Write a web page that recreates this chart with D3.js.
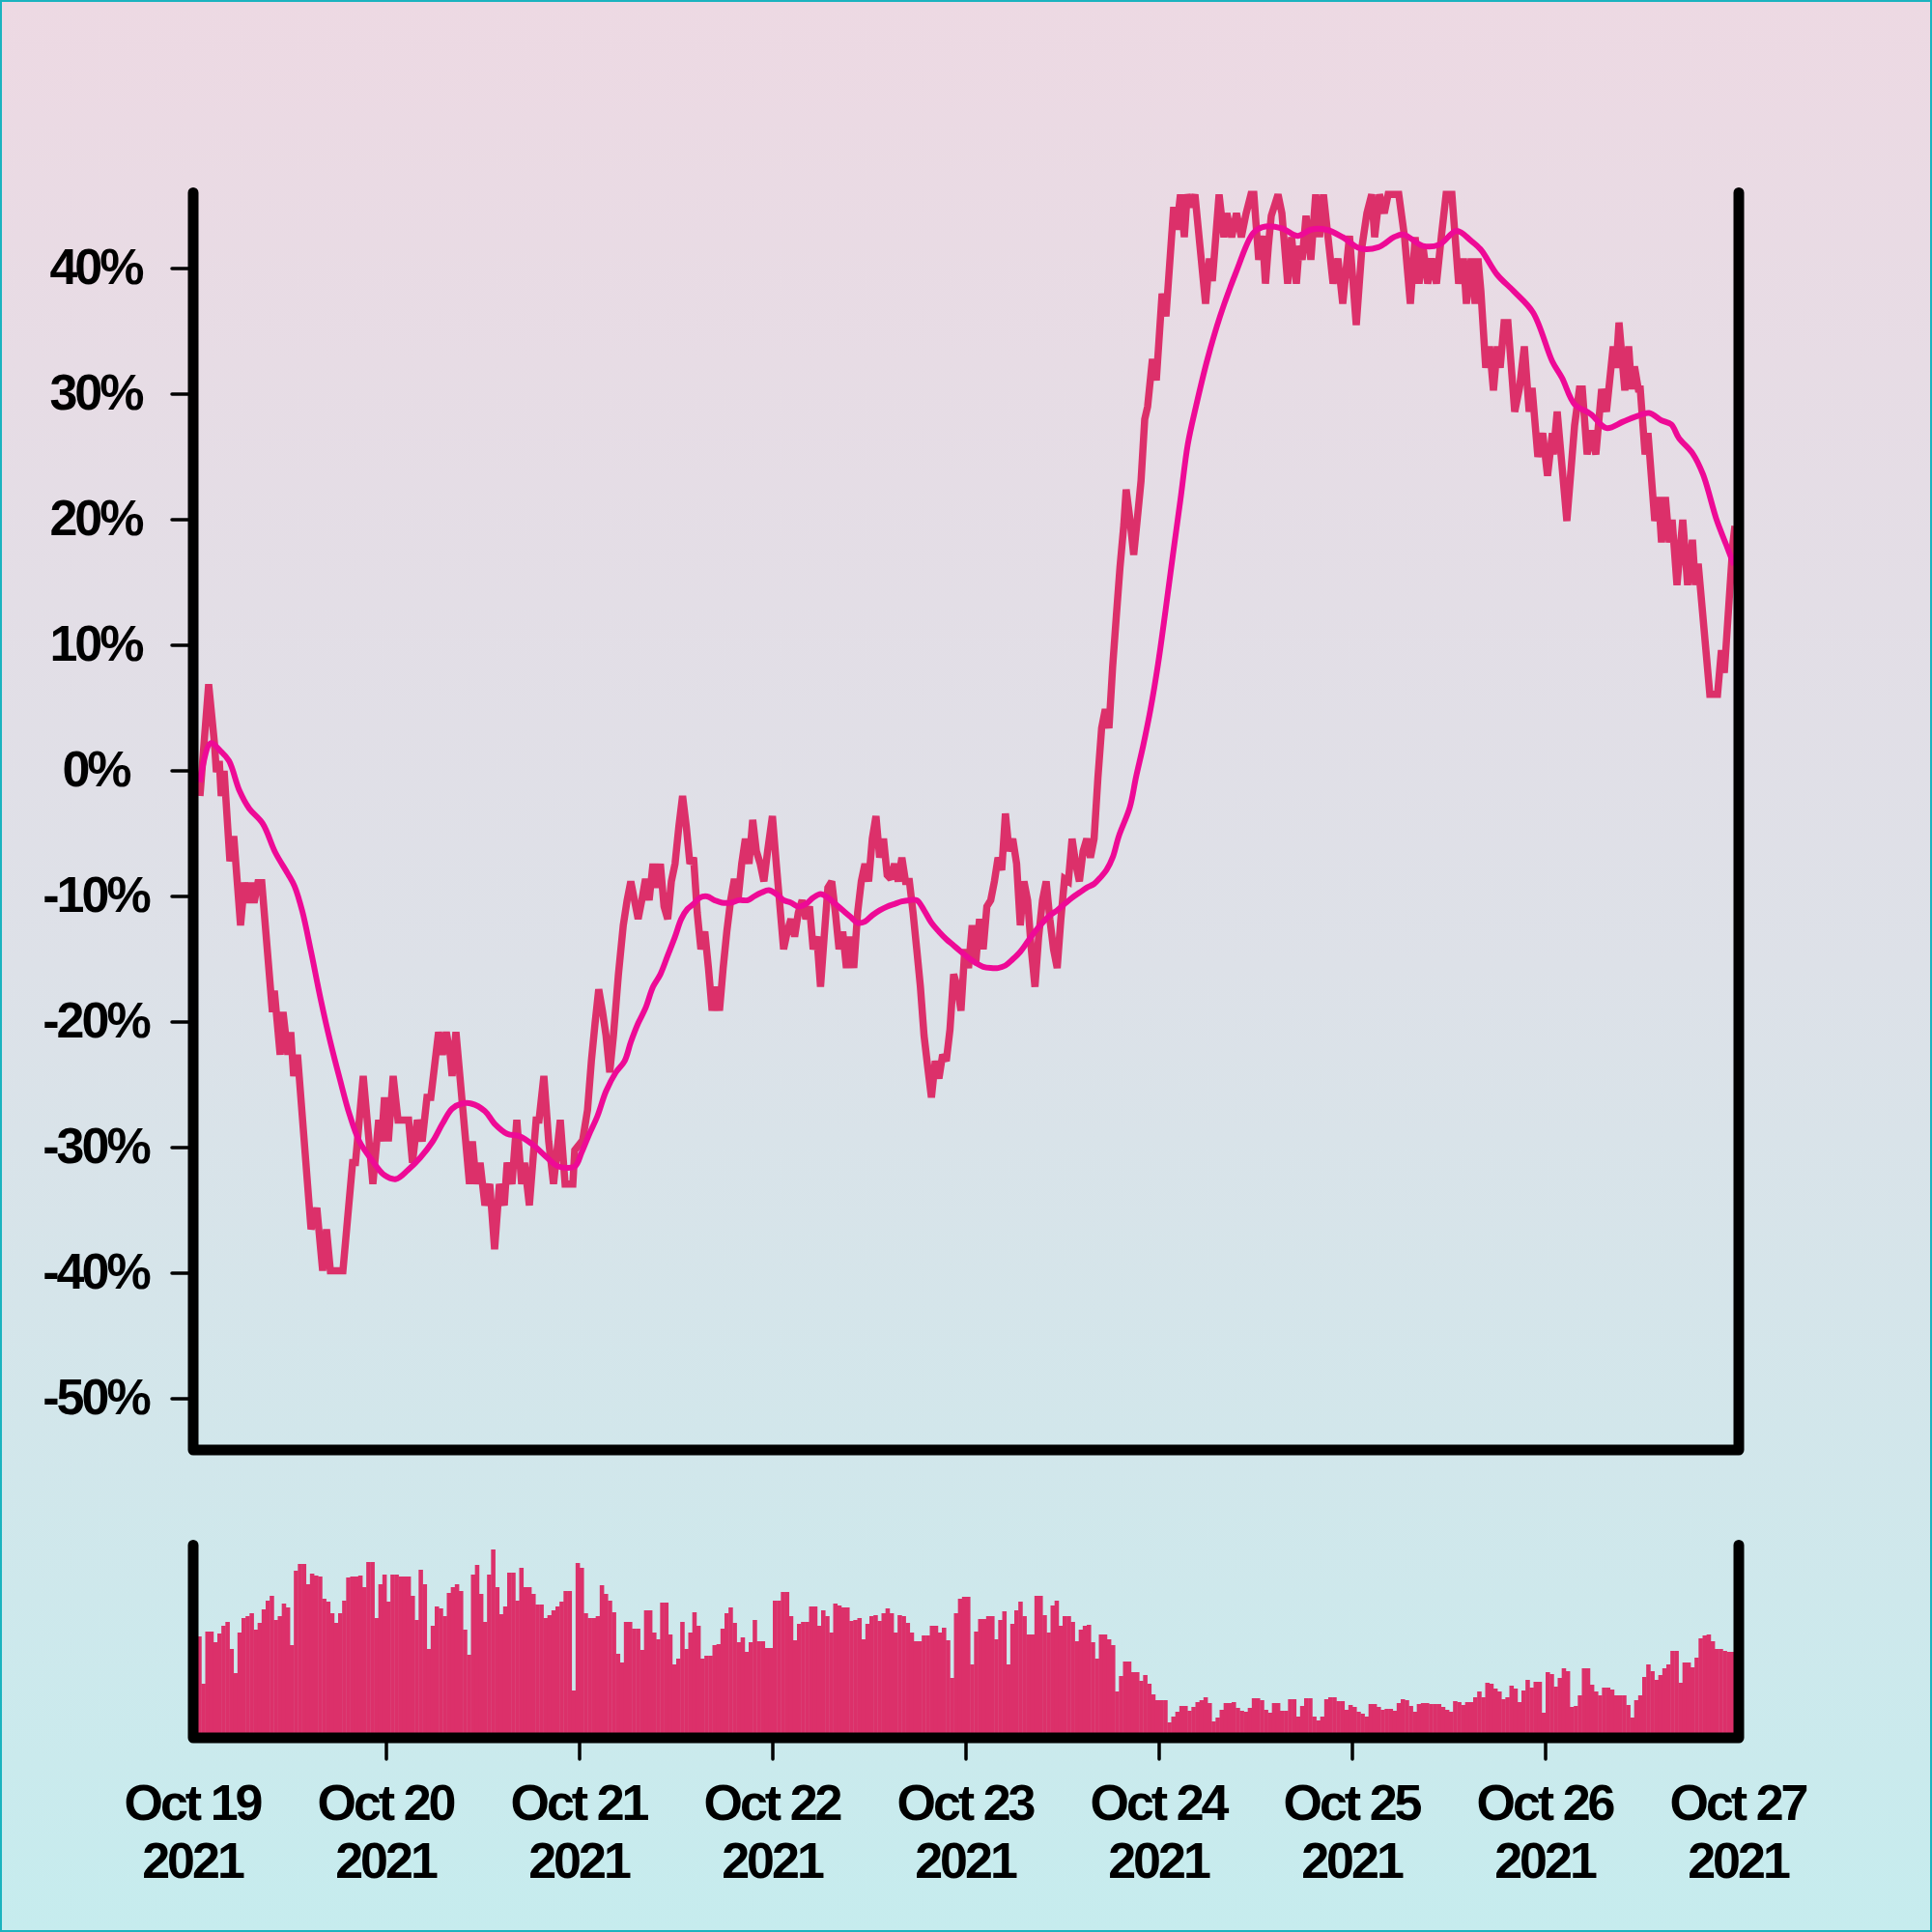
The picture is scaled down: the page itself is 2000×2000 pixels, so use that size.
<!DOCTYPE html>
<html><head><meta charset="utf-8">
<script src="https://cdn.jsdelivr.net/npm/d3@7"></script>
<style>html,body{margin:0;padding:0;background:#fff}svg{display:block}</style>
</head><body>
<script>
// ---------- DATA ----------
const startDay = "2021-10-19";
const endDay = "2021-10-27";
const xTickDays = ["2021-10-19","2021-10-20","2021-10-21","2021-10-22","2021-10-23","2021-10-24","2021-10-25","2021-10-26","2021-10-27"];
const yTicks = [40,30,20,10,0,-10,-20,-30,-40,-50];

// price change (%) : time in days after Oct 19 00:00
const priceDays = [0.035,0.080,0.110,0.120,0.135,0.145,0.160,0.190,0.210,0.245,0.265,0.285,0.300,0.315,0.335,0.355,0.410,0.420,0.450,0.465,0.490,0.505,0.520,0.540,0.610,0.640,0.670,0.690,0.710,0.775,0.825,0.840,0.880,0.930,0.960,0.975,0.990,1.010,1.035,1.060,1.115,1.135,1.160,1.185,1.210,1.230,1.270,1.290,1.310,1.330,1.340,1.360,1.430,1.445,1.465,1.485,1.510,1.535,1.560,1.585,1.610,1.625,1.650,1.675,1.700,1.715,1.740,1.775,1.790,1.815,1.840,1.865,1.900,1.925,1.965,1.975,
2.016,2.041,2.061,2.080,2.099,2.118,2.137,2.156,2.175,2.201,2.226,2.246,2.265,2.284,2.303,2.322,2.341,2.360,2.380,2.399,2.418,2.437,2.456,2.475,2.494,2.514,2.533,2.552,2.571,2.590,2.609,2.628,2.648,2.667,2.686,2.705,2.724,2.743,2.762,2.782,2.801,2.820,2.839,2.858,2.877,2.896,2.915,2.935,2.954,2.973,2.998,
3.018,3.037,3.056,3.075,3.094,3.113,3.132,3.152,3.171,3.190,3.209,3.228,3.247,3.266,3.285,3.305,3.324,3.343,3.362,3.381,3.400,3.419,3.439,3.458,3.477,3.496,3.515,3.534,3.553,3.573,3.592,3.611,3.630,3.649,3.668,3.687,3.707,3.726,3.745,3.764,3.783,3.802,3.821,3.841,3.860,3.879,3.898,3.917,3.936,3.955,3.974,3.994,
4.013,4.032,4.051,4.070,4.089,4.108,4.128,4.147,4.166,4.185,4.204,4.223,4.242,4.262,4.281,4.300,4.319,4.338,4.357,4.376,4.396,4.415,4.434,4.453,4.472,4.491,4.510,4.530,4.549,4.568,4.587,4.606,4.625,4.644,4.663,4.683,4.702,4.721,4.740,4.759,4.778,4.797,4.817,4.829,4.848,4.868,4.887,4.906,4.925,
4.940,4.965,4.985,5.015,5.035,5.075,5.090,5.110,5.130,5.145,5.165,5.185,5.240,5.260,5.275,5.310,5.335,5.350,5.375,5.400,5.425,5.450,5.475,5.490,5.515,5.535,5.550,5.565,5.580,5.615,5.635,5.665,5.685,5.710,5.725,5.740,5.760,5.785,5.810,5.830,5.850,5.900,5.925,5.950,5.985,
6.020,6.050,6.075,6.100,6.115,6.140,6.165,6.185,6.215,6.240,6.270,6.300,6.325,6.345,6.365,6.390,6.410,6.435,6.460,6.485,6.515,6.550,6.575,6.590,6.615,6.635,6.650,
6.665,6.690,6.710,6.730,6.750,6.765,6.785,6.805,6.840,6.865,6.890,6.915,6.930,6.960,6.985,7.010,7.035,7.040,7.060,7.110,7.150,7.175,7.190,7.215,7.235,7.260,7.290,7.315,7.350,7.365,7.380,7.410,7.430,7.445,7.460,7.480,7.490,7.515,7.530,7.565,7.585,7.600,7.620,7.640,7.655,7.680,7.710,7.735,7.760,7.775,7.790,7.850,7.890,7.910,7.925,7.970,7.980];
const priceValues = [-2.0,6.9,2.2,-0.1,0.8,-2.0,0.0,-7.2,-5.2,-12.3,-8.9,-10.5,-8.9,-10.5,-8.9,-8.9,-19.2,-17.5,-22.6,-19.2,-22.6,-20.8,-24.3,-22.6,-36.5,-34.8,-39.8,-36.5,-39.8,-39.8,-31.2,-31.2,-24.3,-32.9,-27.8,-29.5,-26.0,-29.5,-24.3,-27.8,-27.8,-31.2,-27.8,-29.5,-26.0,-26.0,-20.8,-22.6,-20.8,-22.6,-24.3,-20.8,-32.9,-29.5,-32.9,-31.2,-34.6,-32.9,-38.1,-32.9,-34.6,-31.2,-32.9,-27.8,-32.9,-31.2,-34.6,-27.8,-27.8,-24.3,-29.5,-32.9,-27.8,-32.9,-32.9,-30.2,
-29.4,-27.0,-23.1,-20.1,-17.4,-19.1,-21.1,-24.0,-21.1,-16.2,-12.3,-10.3,-8.8,-10.3,-11.8,-10.3,-8.6,-10.3,-7.4,-9.3,-7.4,-10.8,-11.8,-8.8,-7.4,-4.4,-2.0,-4.4,-7.4,-6.9,-11.3,-14.2,-12.8,-15.7,-19.1,-17.2,-19.1,-15.7,-12.8,-10.3,-8.6,-10.3,-7.4,-5.4,-7.4,-3.9,-6.4,-7.4,-8.8,-6.4,-3.6,
-7.4,-10.8,-14.2,-12.8,-11.8,-13.2,-11.3,-10.3,-11.8,-10.8,-14.2,-13.2,-17.2,-13.2,-9.3,-8.8,-11.3,-14.2,-12.8,-15.7,-13.2,-15.7,-11.3,-8.8,-7.4,-8.8,-5.4,-3.6,-6.9,-5.4,-8.3,-8.6,-7.4,-8.8,-6.9,-8.8,-8.8,-11.3,-14.2,-17.2,-21.1,-23.6,-26.0,-23.1,-24.5,-22.6,-23.1,-20.6,-16.2,-17.2,-19.1,-14.2,
-15.7,-12.3,-15.2,-11.8,-14.2,-10.8,-10.3,-8.8,-6.9,-7.9,-3.4,-6.4,-5.4,-7.4,-12.3,-8.8,-10.3,-14.2,-17.2,-13.2,-10.3,-8.8,-11.8,-14.2,-15.7,-11.8,-8.6,-8.8,-5.4,-7.4,-8.8,-6.4,-5.4,-6.9,-5.4,-0.5,3.4,4.9,3.4,8.3,12.3,16.2,19.6,22.4,20.1,17.2,20.1,23.1,28.0,
29.0,32.8,31.1,38.0,36.2,44.9,43.1,45.9,42.5,45.9,44.9,45.9,37.2,40.8,39.0,45.9,42.5,44.4,42.5,44.4,42.5,44.4,45.9,45.9,40.7,42.6,38.8,41.8,44.2,45.9,44.4,38.8,42.5,38.8,41.8,40.7,44.2,40.7,45.9,42.5,45.9,38.8,40.8,37.2,42.6,
35.5,41.8,44.4,45.9,42.5,45.9,44.4,45.9,45.9,45.9,42.5,37.2,42.5,38.8,41.8,38.8,40.8,38.8,42.5,45.9,45.9,38.8,40.8,37.2,40.8,37.2,40.8,
38.2,32.1,33.8,30.3,33.8,32.1,35.7,35.7,28.6,30.5,33.8,28.6,30.5,25.0,26.9,23.5,26.9,25.2,28.6,19.9,27.5,30.4,30.4,25.2,27.1,25.2,30.4,28.6,33.8,32.1,35.7,30.3,33.8,30.4,32.2,30.4,30.4,25.2,26.9,19.9,21.8,18.2,21.8,18.2,20.0,14.8,20.0,14.8,18.4,14.8,16.5,6.1,6.1,9.6,7.8,18.2,19.5];

// moving average (%)
const maDays = [0.035,0.09,0.14,0.185,0.24,0.29,0.36,0.425,0.49,0.525,0.565,0.61,0.66,0.71,0.76,0.81,0.86,0.925,0.99,1.05,1.11,1.175,1.24,1.29,1.34,1.39,1.44,1.51,1.56,1.625,1.69,1.76,1.825,1.89,1.975,
2.010,2.048,2.092,2.137,2.188,2.233,2.265,2.303,2.341,2.380,2.418,2.456,2.494,2.526,2.558,2.590,2.622,2.660,2.699,2.737,2.782,2.826,2.871,2.903,2.941,2.979,3.018,3.056,3.094,3.132,3.171,3.209,3.247,3.285,3.324,3.362,3.400,3.439,3.477,3.515,3.553,3.592,3.630,3.668,3.707,3.745,3.783,3.821,3.860,3.898,3.936,3.974,4.013,4.051,4.089,4.128,4.166,4.204,4.242,4.281,4.319,4.357,4.396,4.434,4.472,4.510,4.549,4.587,4.625,4.663,4.695,4.727,4.759,4.791,4.848,4.880,4.917,4.955,4.994,5.033,5.071,5.110,5.148,
5.19,5.25,5.315,5.40,5.485,5.535,5.635,5.715,5.785,5.865,5.95,6.04,6.135,6.215,6.265,6.365,6.45,6.54,6.615,6.665,6.75,
6.835,6.935,7.035,7.085,7.15,7.235,7.315,7.40,7.465,7.535,7.60,7.65,7.69,7.76,7.815,7.885,7.935,7.975];
const maValues = [-0.9,2.2,1.6,0.8,-1.6,-3.0,-4.2,-6.5,-8.2,-9.2,-11.2,-14.4,-18.2,-21.6,-24.6,-27.4,-29.5,-31.0,-32.2,-32.5,-31.8,-30.8,-29.5,-28.1,-26.9,-26.5,-26.5,-27.1,-28.1,-28.9,-29.1,-29.8,-30.7,-31.5,-31.5,
-30.4,-29.0,-27.5,-25.5,-24.0,-23.1,-21.6,-20.1,-18.9,-17.2,-16.2,-14.7,-13.2,-11.8,-11.0,-10.6,-10.1,-10.0,-10.3,-10.5,-10.5,-10.3,-10.3,-10.0,-9.7,-9.5,-9.8,-10.3,-10.5,-10.8,-10.6,-10.1,-9.8,-10.1,-10.6,-11.1,-11.6,-12.1,-12.0,-11.5,-11.1,-10.8,-10.6,-10.4,-10.3,-10.3,-11.1,-12.1,-12.8,-13.4,-13.9,-14.4,-14.9,-15.3,-15.6,-15.7,-15.7,-15.5,-15.0,-14.4,-13.6,-12.8,-12.1,-11.5,-11.1,-10.6,-10.1,-9.7,-9.3,-9.0,-8.5,-7.9,-6.9,-5.2,-2.9,-0.5,2.0,4.9,8.5,12.8,17.2,21.6,26.0,
29.0,32.8,36.2,39.8,42.8,43.3,43.2,42.6,43.1,43.1,42.5,41.6,41.7,42.5,42.7,41.8,41.9,43.0,42.2,41.5,39.5,
38.2,36.5,32.6,31.3,29.2,28.4,27.3,27.8,28.2,28.5,27.9,27.6,26.5,25.3,23.6,20.0,18.0,16.4];

// volume per 30-minute interval (arbitrary units)
const volumeStepMinutes = 30;
const volume = [100,100,51,105,105,94,103,111,115,87,62,104,119,121,124,107,114,128,137,142,
117,121,134,130,91,168,175,175,154,165,163,162,139,136,124,114,124,137,161,162,
162,163,151,177,177,119,154,164,136,164,164,162,162,162,142,117,169,154,87,111,
131,129,121,145,151,154,147,107,81,164,174,144,115,164,190,151,123,131,166,166,
137,171,151,151,144,133,133,119,122,127,131,136,147,147,44,176,171,124,119,119,
121,153,144,137,125,82,73,115,115,108,108,86,127,127,104,97,135,135,102,71,
77,115,87,104,125,111,77,80,80,91,92,108,124,130,114,94,99,84,94,117,
95,95,88,88,137,137,146,146,121,96,113,115,115,131,131,111,127,121,104,134,
132,130,130,116,117,119,97,113,121,122,116,124,129,124,104,122,121,114,104,95,
95,101,101,111,111,104,109,96,57,124,139,141,141,71,105,118,118,121,121,97,
117,126,71,113,127,136,121,102,102,142,142,122,104,132,137,111,121,121,115,95,
107,111,112,94,77,102,102,97,91,43,59,74,74,63,63,54,60,51,40,34,
34,34,11,17,22,28,28,23,27,32,34,37,31,12,16,24,31,31,32,26,
23,22,26,36,36,34,24,21,31,31,23,23,35,35,17,28,36,36,17,13,
17,35,37,37,33,33,24,29,27,22,20,17,30,30,27,24,25,25,23,31,
35,34,28,22,30,31,31,30,30,30,27,24,22,33,32,29,32,32,37,43,
37,52,51,46,43,35,37,49,46,32,44,55,47,53,53,21,63,61,48,57,
67,64,27,28,39,67,67,50,43,39,47,47,45,39,39,39,29,16,34,39,
58,71,64,55,60,67,71,85,85,52,73,73,68,78,98,101,102,95,87,87,
85,84,84,84];

// ---------- LAYOUT ----------
const W = 2000, H = 2000;
const X0 = 200, X1 = 1800;
const mainTop = 199.5, mainBottom = 1501;
const volTop = 1599.5, volBottom = 1799;
const font = "'Liberation Sans', Arial, Helvetica, sans-serif";
const red = "#DC306A", pink = "#EE0A96";

const parse = d3.timeParse("%Y-%m-%d");
const t0 = parse(startDay), t1 = parse(endDay);
const dayMs = 864e5;
const toDate = d => new Date(t0.getTime() + d * dayMs);

const x = d3.scaleTime().domain([t0, t1]).range([X0, X1]);
const y = d3.scaleLinear().domain([-50, 40]).range([1448, 278]);
const vY = d3.scaleLinear().domain([0, 200]).range([1794, 1594]);

const svg = d3.select("body").append("svg").attr("width", W).attr("height", H);
const defs = svg.append("defs");
const grad = defs.append("linearGradient").attr("id","bg").attr("x1",0).attr("y1",0).attr("x2",0).attr("y2",1);
grad.append("stop").attr("offset","0%").attr("stop-color","#EDD9E3");
grad.append("stop").attr("offset","50%").attr("stop-color","#DDE1E8");
grad.append("stop").attr("offset","100%").attr("stop-color","#C6ECEE");
svg.append("rect").attr("width",W).attr("height",H).attr("fill","url(#bg)");
svg.append("rect").attr("x",1).attr("y",1).attr("width",W-2).attr("height",H-2)
  .attr("fill","none").attr("stroke","#1BB3BF").attr("stroke-width",2);

// volume bars
const stepMs = volumeStepMinutes * 60000;
const vData = volume.map((v, i) => ({t: new Date(t0.getTime() + i * stepMs), v}));
svg.append("g").selectAll("rect").data(vData).join("rect")
  .attr("x", d => x(d.t))
  .attr("width", d => x(new Date(d.t.getTime() + stepMs)) - x(d.t) + 0.4)
  .attr("y", d => vY(d.v))
  .attr("height", d => volBottom - vY(d.v))
  .attr("fill", red);

// price line
const pData = priceDays.map((d, i) => [toDate(d), priceValues[i]]);
svg.append("path").datum(pData)
  .attr("d", d3.line().x(d => x(d[0])).y(d => y(d[1])))
  .attr("fill","none").attr("stroke", red).attr("stroke-width", 7.5)
  .attr("stroke-linejoin","miter").attr("stroke-miterlimit", 2);

// moving average
const mData = maDays.map((d, i) => [toDate(d), maValues[i]]);
svg.append("path").datum(mData)
  .attr("d", d3.line().curve(d3.curveCatmullRom.alpha(0.5)).x(d => x(d[0])).y(d => y(d[1])))
  .attr("fill","none").attr("stroke", pink).attr("stroke-width", 6).attr("stroke-linejoin","round");

// frames
const frame = d3.line();
svg.append("path").attr("d", frame([[X0, mainTop],[X0, mainBottom],[X1, mainBottom],[X1, mainTop]]))
  .attr("fill","none").attr("stroke","#000").attr("stroke-width",11)
  .attr("stroke-linecap","round").attr("stroke-linejoin","round");
svg.append("path").attr("d", frame([[X0, volTop],[X0, volBottom],[X1, volBottom],[X1, volTop]]))
  .attr("fill","none").attr("stroke","#000").attr("stroke-width",11)
  .attr("stroke-linecap","round").attr("stroke-linejoin","round");

// y ticks + labels
const yg = svg.append("g");
yg.selectAll("line").data(yTicks).join("line")
  .attr("x1", X0 - 22).attr("x2", X0 - 5)
  .attr("y1", d => y(d)).attr("y2", d => y(d))
  .attr("stroke","#000").attr("stroke-width",3.5).attr("stroke-linecap","round");
yg.selectAll("text").data(yTicks).join("text")
  .attr("x", 99).attr("y", d => y(d)).attr("dy", "0.31em")
  .attr("text-anchor","middle")
  .attr("font-family", font).attr("font-weight","bold").attr("font-size", 52)
  .attr("letter-spacing", "-3px").attr("fill","#000")
  .text(d => d + "%");

// x ticks + labels
const xDates = xTickDays.map(parse);
const fmtMD = d3.timeFormat("%b %d"), fmtY = d3.timeFormat("%Y");
const xg = svg.append("g");
xg.selectAll("line").data(xDates.slice(1, -1)).join("line")
  .attr("x1", d => x(d)).attr("x2", d => x(d))
  .attr("y1", volBottom + 5).attr("y2", volBottom + 22)
  .attr("stroke","#000").attr("stroke-width",3.5).attr("stroke-linecap","round");
const xl = xg.selectAll("text").data(xDates).join("text")
  .attr("text-anchor","middle")
  .attr("font-family", font).attr("font-weight","bold").attr("font-size", 52)
  .attr("letter-spacing", "-3px").attr("fill","#000");
xl.append("tspan").attr("x", d => x(d) - 1).attr("y", 1884).text(d => fmtMD(d).replace(/ 0/, " "));
xl.append("tspan").attr("x", d => x(d) - 1).attr("y", 1944).text(d => fmtY(d));
</script>
</body></html>
